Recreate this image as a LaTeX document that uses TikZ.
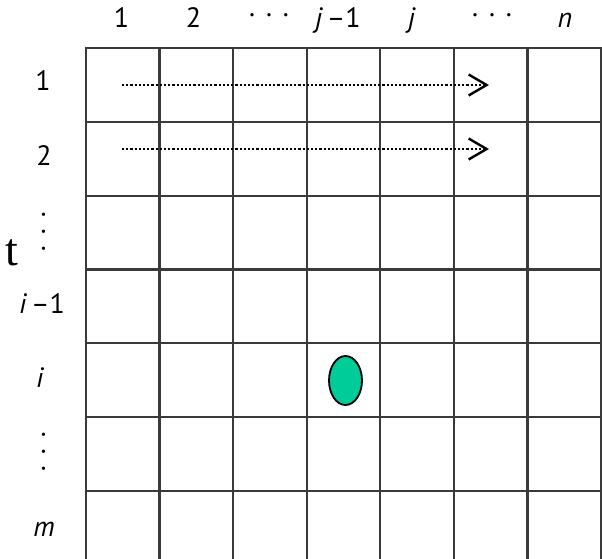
\documentclass[tikz,border=0pt]{standalone}
\usepackage{fontspec}
\setmainfont{PT Sans}
\newfontfamily\serifT{Liberation Serif}
\usetikzlibrary{arrows.meta,shapes.geometric}
\definecolor{gridc}{HTML}{3A3A3A}
\definecolor{cellgreen}{RGB}{0,204,153}
\begin{document}
\begin{tikzpicture}[x=1pt,y=-1pt,
  lab/.style={font=\fontsize{28}{30}\selectfont, inner sep=0pt, anchor=base},
  dotsh/.style={font=\fontsize{28}{30}\selectfont, inner sep=0pt, anchor=center},
  gridline/.style={draw=gridc, line width=2.2pt, line cap=rect},
  dotline/.style={line width=2.6pt, dash pattern=on 2.2pt off 2pt, -{Straight Barb[length=18pt,width=21pt,line width=2.4pt]}},
  blob/.style={ellipse, draw=black, line width=1.8pt, fill=cellgreen, minimum width=33pt, minimum height=49pt, inner sep=0pt}]
\useasboundingbox (0,0) rectangle (602,559);
\clip (0,0) rectangle (602,559);
% grid
\foreach \k in {0,...,7}
  \draw[gridline] ({86+73.57*\k},48) -- ({86+73.57*\k},575);
\foreach \k in {0,...,7}
  \draw[gridline] (86,{48+73.8*\k}) -- (605,{48+73.8*\k});
% column labels
\node[lab] (c1) at (121.5,28) {1};
\node[lab] (c2) at (193.5,28) {2};
\node[dotsh] (c3) at (269,19) {·\hspace{9.5pt}·\hspace{9.5pt}·};
\node[lab] (c4) at (338,28) {\textit{j}\hspace{4pt}–1};
\node[lab] (c5) at (412,28) {\textit{j}};
\node[dotsh] (c6) at (492,19) {·\hspace{9.5pt}·\hspace{9.5pt}·};
\node[lab] (c7) at (565,28) {\textit{n}};
% row labels
\node[lab] (r1) at (43,91) {1};
\node[lab] (r2) at (44,165) {2};
\node[dotsh, rotate=90] (r3) at (47,232) {·\hspace{9.5pt}·\hspace{9.5pt}·};
\node[lab] (r4) at (42,313) {\textit{i}\hspace{4pt}–1};
\node[lab] (r5) at (40,387) {\textit{i}};
\node[dotsh, rotate=90] (r6) at (47,452) {·\hspace{9.5pt}·\hspace{9.5pt}·};
\node[lab] (r7) at (44,536) {\textit{m}};
% cut-off letter
\node[font=\serifT\fontsize{46}{48}\selectfont, inner sep=0pt, anchor=base east] (tt) at (18,265) {t};
% arrows
\coordinate (a1s) at (122,85);
\coordinate (a1e) at (489,85);
\coordinate (a2s) at (122,149);
\coordinate (a2e) at (489,149);
\draw[dotline] (a1s) -- (a1e);
\draw[dotline] (a2s) -- (a2e);
% cell marker
\node[blob] (cell) at (345.5,380.5) {};
\end{tikzpicture}
\end{document}
